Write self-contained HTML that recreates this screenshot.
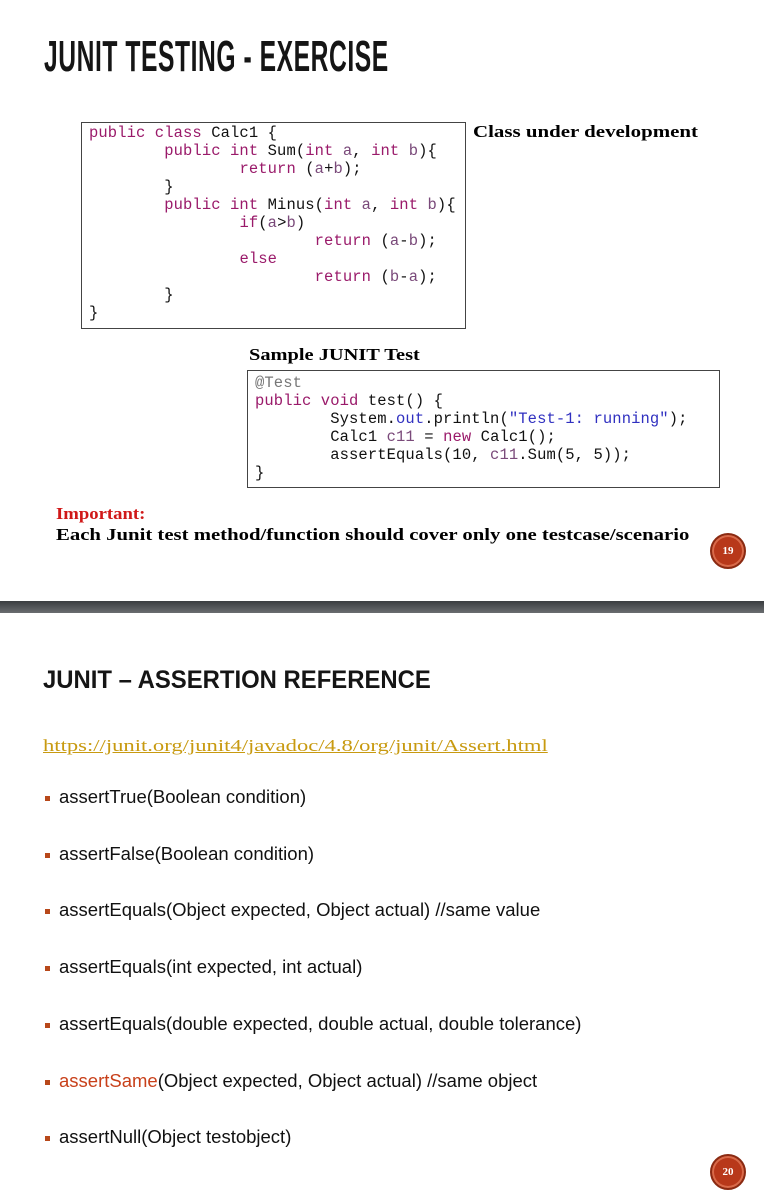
<!DOCTYPE html>
<html><head><meta charset="utf-8"><style>
body{margin:0;width:764px;height:1188px;position:relative;background:#fff;overflow:hidden;font-family:"Liberation Sans",sans-serif}
.a{position:absolute;white-space:pre}
.code{position:absolute;border:1.5px solid #444;box-sizing:border-box}
.m{font-family:"Liberation Mono",monospace;font-size:15.5px;line-height:18px;color:#111;position:absolute;white-space:pre;letter-spacing:0.1px}
.k{color:#9a1a6a}.v{color:#7a4a7a}.s{color:#3030c0}.g{color:#777}
.ser{font-family:"Liberation Serif",serif;font-weight:bold;transform-origin:0 0}
.circ{position:absolute;width:32px;height:32px;border-radius:50%;background:#b8381a;border:2px solid #8a2a12;box-shadow:inset 0 0 0 2px #d86a4a;color:#fff;font:bold 11px "Liberation Serif",serif;text-align:center;line-height:32px}
.b{position:absolute;left:45px;width:5px;height:5px;background:#b8481a}
.li{position:absolute;left:59px;font-size:18.5px;color:#111;white-space:pre}
</style></head><body>
<div class="a" style="left:44px;top:32px;font:bold 44px 'Liberation Sans',sans-serif;transform:scaleX(0.56);transform-origin:0 0;letter-spacing:1px;color:#151515">JUNIT TESTING - EXERCISE</div>

<div class="code" style="left:81px;top:122px;width:385px;height:207px"></div>
<div class="m" style="left:89px;top:124px"><span class="k">public class</span> Calc1 {
        <span class="k">public int</span> Sum(<span class="k">int</span> <span class="v">a</span>, <span class="k">int</span> <span class="v">b</span>){
                <span class="k">return</span> (<span class="v">a</span>+<span class="v">b</span>);
        }
        <span class="k">public int</span> Minus(<span class="k">int</span> <span class="v">a</span>, <span class="k">int</span> <span class="v">b</span>){
                <span class="k">if</span>(<span class="v">a</span>&gt;<span class="v">b</span>)
                        <span class="k">return</span> (<span class="v">a</span>-<span class="v">b</span>);
                <span class="k">else</span>
                        <span class="k">return</span> (<span class="v">b</span>-<span class="v">a</span>);
        }
}</div>
<div class="a ser" style="left:473px;top:122px;font-size:17px;transform:scaleX(1.23)">Class under development</div>
<div class="a ser" style="left:249px;top:345px;font-size:17px;transform:scaleX(1.2)">Sample JUNIT Test</div>
<div class="code" style="left:247px;top:370px;width:473px;height:118px"></div>
<div class="m" style="left:255px;top:374px"><span class="g">@Test</span>
<span class="k">public void</span> test() {
        System.<span class="s">out</span>.println(<span class="s">"Test-1: running"</span>);
        Calc1 <span class="v">c11</span> = <span class="k">new</span> Calc1();
        assertEquals(10, <span class="v">c11</span>.Sum(5, 5));
}</div>
<div class="a ser" style="left:56px;top:504px;font-size:17px;color:#d01818;transform:scaleX(1.1)">Important:</div>
<div class="a ser" style="left:56px;top:525px;font-size:17px;transform:scaleX(1.22)">Each Junit test method/function should cover only one testcase/scenario</div>
<div class="circ" style="left:710px;top:533px">19</div>

<div style="position:absolute;left:0;top:601px;width:764px;height:12px;background:linear-gradient(#3a3d40,#6a6d70)"></div>

<div class="a" style="left:43px;top:666px;font:bold 25px 'Liberation Sans',sans-serif;color:#151515;transform:scaleX(0.955);transform-origin:0 0">JUNIT – ASSERTION REFERENCE</div>
<div class="a" style="left:43px;top:736px;font:17px 'Liberation Serif',serif;color:#c89a10;text-decoration:underline;transform:scaleX(1.33);transform-origin:0 0">https://junit.org/junit4/javadoc/4.8/org/junit/Assert.html</div>

<div class="b" style="top:796px"></div><div class="li" style="top:786px">assertTrue(Boolean condition)</div>
<div class="b" style="top:853px"></div><div class="li" style="top:843px">assertFalse(Boolean condition)</div>
<div class="b" style="top:909px"></div><div class="li" style="top:899px">assertEquals(Object expected, Object actual) //same value</div>
<div class="b" style="top:966px"></div><div class="li" style="top:956px">assertEquals(int expected, int actual)</div>
<div class="b" style="top:1023px"></div><div class="li" style="top:1013px">assertEquals(double expected, double actual, double tolerance)</div>
<div class="b" style="top:1080px"></div><div class="li" style="top:1070px"><span style="color:#c8401a">assertSame</span>(Object expected, Object actual) //same object</div>
<div class="b" style="top:1136px"></div><div class="li" style="top:1126px">assertNull(Object testobject)</div>
<div class="circ" style="left:710px;top:1154px">20</div>
</body></html>
